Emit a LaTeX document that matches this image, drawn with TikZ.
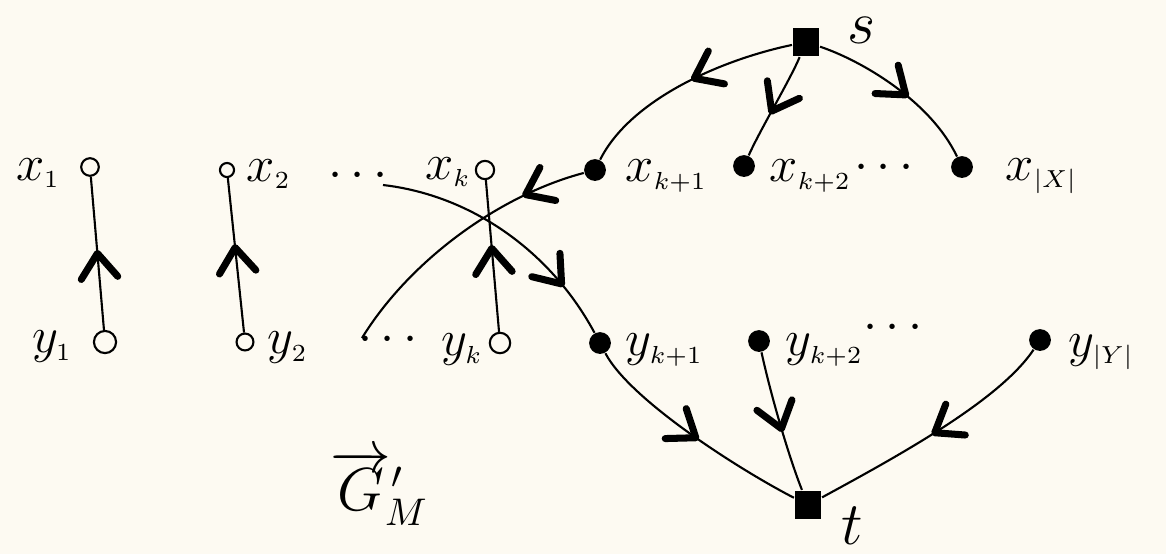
\documentclass[tikz,border=0pt]{standalone}
\usetikzlibrary{decorations.markings}
\definecolor{bg}{RGB}{253,250,242}
\tikzset{
 edge/.style={line width=0.6pt},
 chevat/.style={postaction={decorate},decoration={markings,mark=at position #1 with {\draw[line width=2pt,line cap=round,line join=round] (-7pt,5.2pt)--(0,0)--(-7pt,-5.2pt);}}},
 opn/.style={circle,draw,line width=0.6pt,inner sep=0pt,minimum size=#1},
 fil/.style={circle,fill,inner sep=0pt,minimum size=6.2pt},
 sq/.style={rectangle,fill,inner sep=0pt,minimum width=7.6pt,minimum height=8.2pt},
 lbl/.style={font=\fontsize{15}{15}\selectfont,inner sep=0pt},
 big/.style={font=\fontsize{19}{19}\selectfont,inner sep=1pt},
}
\begin{document}
\begin{tikzpicture}[x=0.01cm,y=-0.01cm]
\fill[bg] (0,0) rectangle (1166,554);
% nodes
\node[opn=5pt] (x1) at (90,167) {};
\node[opn=6.3pt] (y1) at (105,342) {};
\node[opn=4pt] (x2) at (227,170) {};
\node[opn=4.8pt] (y2) at (245,342) {};
\node[opn=5.2pt] (xk) at (485,170) {};
\node[opn=5.8pt] (yk) at (500,343) {};
\node[fil] (xk1) at (595,170) {};
\node[fil] (xk2) at (744,166) {};
\node[fil] (xX) at (962,167) {};
\node[fil] (yk1) at (600,343) {};
\node[fil] (yk2) at (759,341) {};
\node[fil] (yY) at (1040,340) {};
\node[sq] (s) at (806,42) {};
\node[sq] (t) at (808,505) {};
% labels
\node[lbl] (lx1) at (38,173) {$x_{\scriptscriptstyle 1}$};
\node[lbl] (ly1) at (52,347) {$y_{\scriptscriptstyle 1}$};
\node[lbl,anchor=west] (lx2) at (246,174) {$x_{\scriptscriptstyle 2}$};
\node[lbl,anchor=west] (ly2) at (267,348) {$y_{\scriptscriptstyle 2}$};
\node[lbl] (lxk) at (448,172) {$x_{\scriptscriptstyle k}$};
\node[lbl] (lyk) at (462,350) {$y_{\scriptscriptstyle k}$};
\node[lbl,anchor=west] (lxk1) at (625,176) {$x_{\scriptscriptstyle k+1}$};
\node[lbl,anchor=west] (lxk2) at (769,176) {$x_{\scriptscriptstyle k+2}$};
\node[lbl,anchor=west] (lxX) at (1005,176) {$x_{\scriptscriptstyle |X|}$};
\node[lbl,anchor=west] (lyk1) at (625,350) {$y_{\scriptscriptstyle k+1}$};
\node[lbl,anchor=west] (lyk2) at (785,350) {$y_{\scriptscriptstyle k+2}$};
\node[lbl,anchor=west] (lyY) at (1068,352) {$y_{\scriptscriptstyle |Y|}$};
\node[big] (ls) at (862,30) {$s$};
\node[big] (lt) at (852,526) {$t$};
\node[lbl,anchor=west,font=\fontsize{16}{16}\selectfont] (G) at (330,488) {$\overrightarrow{G}{}'_{\!M}$};
% dots
\node[lbl] (d1) at (358,176) {$\cdots$};
\node[lbl] (d2) at (388,340) {$\cdots$};
\node[lbl] (d3) at (884,168) {$\cdots$};
\node[lbl] (d4) at (893,328) {$\cdots$};
\coordinate (c1) at (383,185);
\coordinate (c2) at (362,338);
% edges
\draw[edge,chevat=0.5] (y1) -- (x1);
\draw[edge,chevat=0.55] (y2) -- (x2);
\draw[edge,chevat=0.55] (yk) -- (xk);
\draw[edge,chevat=0.78] (c1) .. controls (470,195) and (550,250) .. (yk1);
\draw[edge,chevat=0.22] (xk1) .. controls (500,195) and (410,260) .. (c2);
\draw[edge,chevat=0.45] (s) .. controls (720,60) and (630,100) .. (xk1);
\draw[edge,chevat=0.55] (s) .. controls (790,80) and (760,130) .. (xk2);
\draw[edge,chevat=0.55] (s) .. controls (860,60) and (930,100) .. (xX);
\draw[edge,chevat=0.52] (yk1) .. controls (630,400) and (740,470) .. (t);
\draw[edge,chevat=0.55] (yk2) .. controls (772,400) and (790,460) .. (t);
\draw[edge,chevat=0.5] (yY) .. controls (1000,400) and (900,455) .. (t);
\end{tikzpicture}
\end{document}
